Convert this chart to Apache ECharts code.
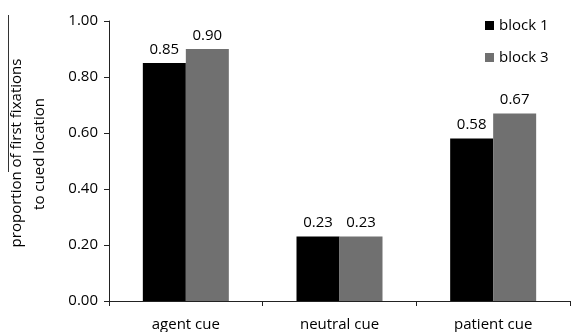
<!DOCTYPE html>
<html>
<head>
<meta charset="utf-8">
<script src="https://cdn.jsdelivr.net/npm/echarts@6/dist/echarts.min.js"></script>
<style>
  html, body { margin: 0; padding: 0; background: #fff; }
  #chart { width: 571px; height: 332px; }
</style>
</head>
<body>
<div id="chart"></div>
<script>
// Cue conditions along the x axis
const categories = ['agent cue', 'neutral cue', 'patient cue'];
// Proportion of first fixations to the cued location, per block
const block1 = [0.85, 0.23, 0.58];
const block3 = [0.90, 0.23, 0.67];
const seriesNames = ['block 1', 'block 3'];
const yTicks = { min: 0, max: 1, interval: 0.2 };

const FONT = 'Open Sans';
const FS = 15;
const chart = echarts.init(document.getElementById('chart'));

const labelStyle = {
  show: true,
  position: 'top',
  distance: 6,
  color: '#000',
  fontFamily: FONT,
  fontSize: FS,
  formatter: p => p.value.toFixed(2)
};

chart.setOption({
  animation: false,
  backgroundColor: '#fff',
  grid: { left: 109, right: 1, top: 21, bottom: 31 },
  legend: {
    orient: 'vertical',
    left: 480,
    top: 13,
    itemWidth: 9,
    itemHeight: 9,
    itemGap: 17,
    icon: 'rect',
    textStyle: { fontFamily: FONT, fontSize: FS, color: '#000' },
    data: seriesNames
  },
  xAxis: {
    type: 'category',
    data: categories,
    axisLine: { lineStyle: { color: '#222', width: 1 } },
    axisTick: { show: true, length: 5, lineStyle: { color: '#222' } },
    axisLabel: { color: '#000', fontFamily: FONT, fontSize: FS, margin: 16 }
  },
  yAxis: {
    type: 'value',
    min: yTicks.min,
    max: yTicks.max,
    interval: yTicks.interval,
    splitLine: { show: false },
    axisLine: { show: true, lineStyle: { color: '#222', width: 1 } },
    axisTick: { show: true, length: 5, lineStyle: { color: '#222' } },
    axisLabel: {
      color: '#000', fontFamily: FONT, fontSize: FS, margin: 11,
      formatter: v => v.toFixed(2)
    }
  },
  graphic: [
    {
      type: 'text',
      x: 17, y: 153,
      rotation: Math.PI / 2,
      style: {
        text: 'proportion of first fixations',
        fontFamily: FONT, fontSize: FS, fill: '#000',
        align: 'center', verticalAlign: 'middle'
      }
    },
    {
      type: 'text',
      x: 40, y: 154,
      rotation: Math.PI / 2,
      style: {
        text: 'to cued location',
        fontFamily: FONT, fontSize: FS, fill: '#000',
        align: 'center', verticalAlign: 'middle'
      }
    },
    {
      type: 'line',
      shape: { x1: 8.5, y1: 15, x2: 8.5, y2: 172 },
      style: { stroke: '#333', lineWidth: 1 }
    }
  ],
  series: [
    {
      name: seriesNames[0],
      type: 'bar',
      data: block1,
      barWidth: 43,
      barGap: '0%',
      itemStyle: { color: '#000' },
      label: labelStyle
    },
    {
      name: seriesNames[1],
      type: 'bar',
      data: block3,
      barWidth: 43,
      barGap: '0%',
      itemStyle: { color: '#707070' },
      label: labelStyle
    }
  ]
});
</script>
</body>
</html>
